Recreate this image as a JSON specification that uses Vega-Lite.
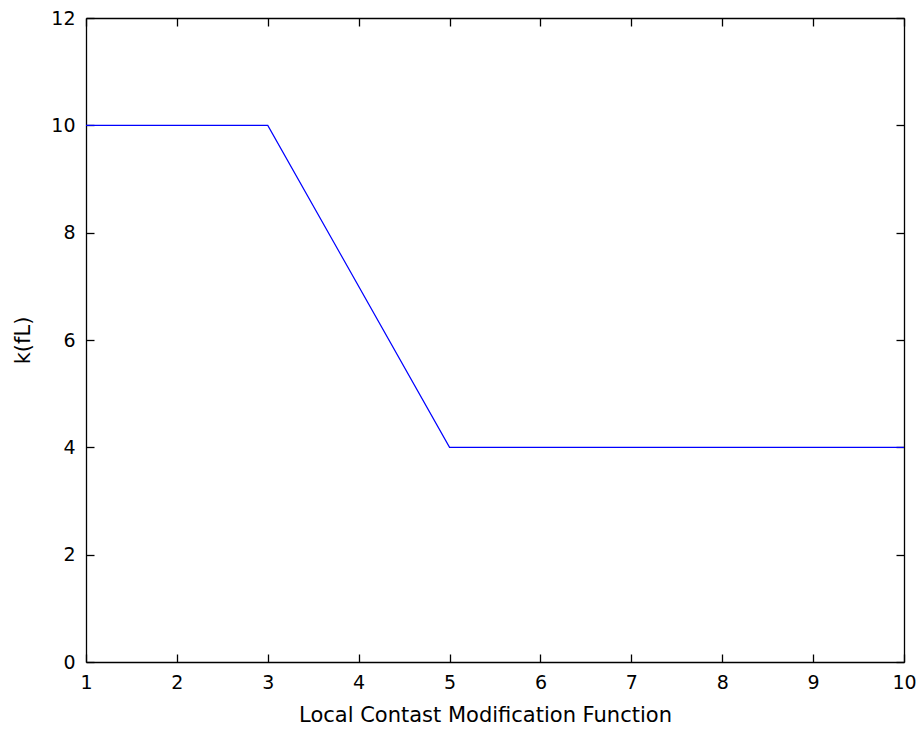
{
  "$schema": "https://vega.github.io/schema/vega-lite/v6.json",
  "width": 818,
  "height": 644,
  "autosize": {"type": "none"},
  "padding": {"left": 86, "top": 18, "right": 13, "bottom": 71},
  "background": "white",
  "data": {"values": [
    {"x": 1, "k": 10},
    {"x": 3, "k": 10},
    {"x": 5, "k": 4},
    {"x": 10, "k": 4}
  ]},
  "config": {
    "view": {"stroke": null},
    "axis": {
      "labelFont": "DejaVu Sans",
      "titleFont": "DejaVu Sans",
      "labelFontSize": 19,
      "titleFontSize": 21,
      "titleFontWeight": "normal",
      "labelColor": "#000000",
      "titleColor": "#000000",
      "domainColor": "#000000",
      "tickColor": "#000000",
      "domainWidth": 1.3,
      "tickWidth": 1.3,
      "grid": false
    }
  },
  "resolve": {"axis": {"x": "independent", "y": "independent"}},
  "layer": [
    {
      "mark": {"type": "line", "color": "#0000FF", "strokeWidth": 1.2},
      "encoding": {
        "x": {"field": "x", "type": "quantitative", "scale": {"domain": [1, 10], "nice": false, "zero": false},
          "axis": {"title": "Local Contast Modification Function", "values": [1,2,3,4,5,6,7,8,9,10], "tickSize": -8, "labelPadding": 19, "titlePadding": 12, "titleX": 399, "labelFlush": false}},
        "y": {"field": "k", "type": "quantitative", "scale": {"domain": [0, 12], "nice": false},
          "axis": {"title": "k(fL)", "values": [0,2,4,6,8,10,12], "tickSize": -8, "labelPadding": 19, "titlePadding": 17, "labelFlush": false}}
      }
    },
    {
      "mark": {"type": "line", "opacity": 0},
      "encoding": {
        "x": {"field": "x", "type": "quantitative", "scale": {"domain": [1, 10], "nice": false, "zero": false},
          "axis": {"orient": "top", "title": null, "labels": false, "values": [1,2,3,4,5,6,7,8,9,10], "tickSize": -8}},
        "y": {"field": "k", "type": "quantitative", "scale": {"domain": [0, 12], "nice": false},
          "axis": {"orient": "right", "title": null, "labels": false, "values": [0,2,4,6,8,10,12], "tickSize": -8}}
      }
    }
  ]
}
